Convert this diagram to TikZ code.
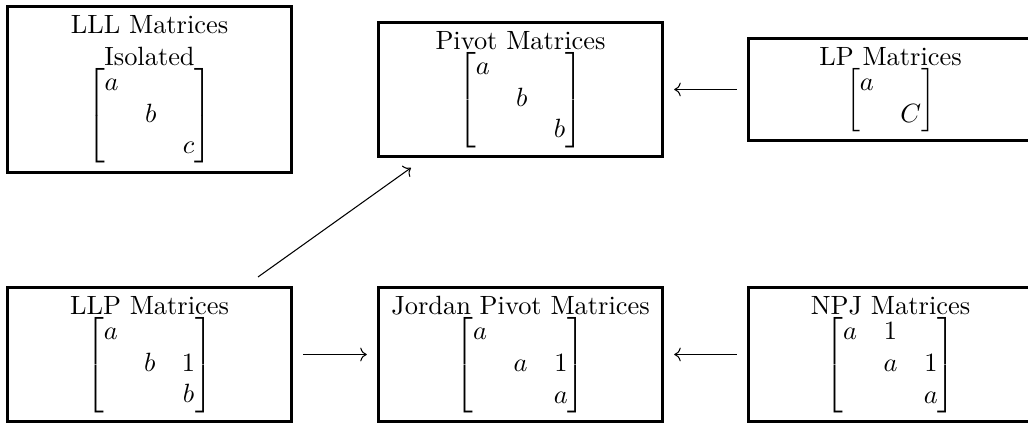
\documentclass[tikz,border=0pt]{standalone}
\usepackage{amsmath}
\usetikzlibrary{arrows.meta}
\begin{document}
\begin{tikzpicture}[x=0.3788pt,y=-0.3788pt,
  box/.style={draw,line width=1.15pt,minimum width=107.3pt,align=center,anchor=center},
  arr/.style={-{Computer Modern Rightarrow},line width=0.4pt,shorten <=4pt,shorten >=4pt}]
\useasboundingbox (0,0) rectangle (1028,423);
\node[box] (LLL) at (149.5,89.5) {LLL Matrices\\Isolated\\$\begin{bmatrix}a&&\\&b&\\&&c\end{bmatrix}$};
\node[box] (Pivot) at (520.5,89.5) {Pivot Matrices\\$\begin{bmatrix}a&&\\&b&\\&&b\end{bmatrix}$};
\node[box] (LP) at (890.5,89.5) {LP Matrices\\$\begin{bmatrix}a&\\&C\end{bmatrix}$};
\node[box] (LLP) at (149.5,354.5) {LLP Matrices\\$\begin{bmatrix}a&&\\&b&1\\&&b\end{bmatrix}$};
\node[box] (Jordan) at (520.5,354.5) {Jordan Pivot Matrices\\$\begin{bmatrix}a&&\\&a&1\\&&a\end{bmatrix}$};
\node[box] (NPJ) at (890.5,354.5) {NPJ Matrices\\$\begin{bmatrix}a&1&\\&a&1\\&&a\end{bmatrix}$};
\draw[arr] (LP) -- (Pivot);
\draw[arr] (LLP) -- (Jordan);
\draw[arr] (NPJ) -- (Jordan);
\draw[arr,shorten <=6pt,shorten >=6.5pt] (LLP) -- (Pivot);
\end{tikzpicture}
\end{document}
